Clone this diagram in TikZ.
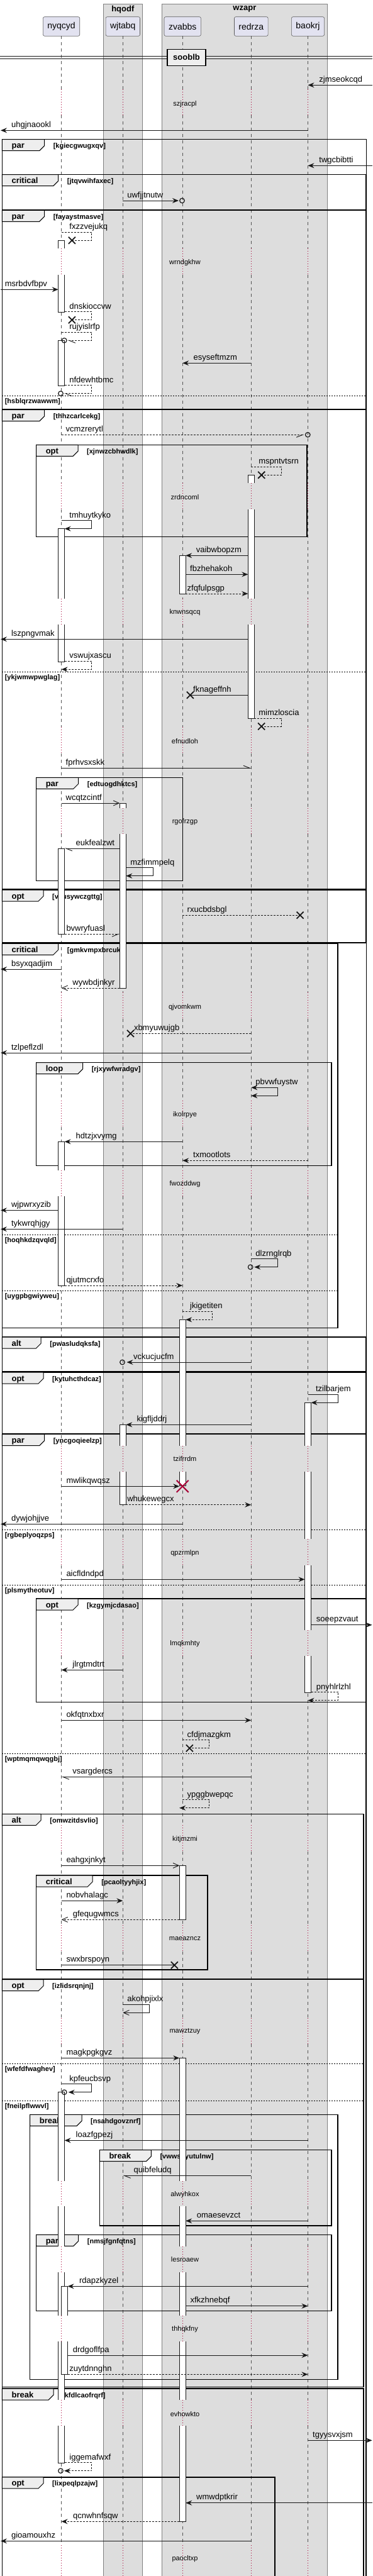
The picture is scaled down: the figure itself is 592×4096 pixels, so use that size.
\documentclass[tikz,border=0pt]{standalone}
\usepackage{fontspec}
\setmainfont{Liberation Sans}
\usepackage{tikz}
\usetikzlibrary{arrows.meta}
\definecolor{ink}{HTML}{181818}
\definecolor{partbg}{HTML}{E2E2F0}
\definecolor{boxbg}{HTML}{DDDDDD}
\definecolor{tabbg}{HTML}{EEEEEE}
\definecolor{dlyred}{HTML}{A80036}
\definecolor{lifegray}{HTML}{555555}
% message: [style]{from}{to}{y}{label x}{text}
\newcommand\sqmsg[6][]{\draw[msg,#1] (#2 |- 0,#4) -- (#3 |- 0,#4);
  \node[lbl] at (#5,#4-5) {#6};}
% self message: [style]{from}{y}{far x}{to}{label x}{text}
\newcommand\sqself[7][]{\draw[msg,#1] (#2 |- 0,#3) -| (#4,#3+13) -- (#5 |- 0,#3+13);
  \node[lbl] at (#6,#3-4.5) {#7};}
\newcommand\sqx[2]{\draw[xmk] (#1-5.5,#2-5.5) -- (#1+5.5,#2+5.5) (#1-5.5,#2+5.5) -- (#1+5.5,#2-5.5);}
\newcommand\sqo[2]{\draw[circst] (#1,#2) circle (3.8pt);}
\newcommand\sqdestroy[2]{\draw[dlyred,line width=2pt] (#1-9.5,#2-9.5) -- (#1+9.5,#2+9.5) (#1-9.5,#2+9.5) -- (#1+9.5,#2-9.5);}
% group frame: {left}{top}{right}{bottom}{tab right}{kind}{guard}
\newcommand\sqgrp[7]{\draw[frm] (#1,#2) rectangle (#3,#4);
  \filldraw[tabst] (#1,#2) -- (#5,#2) -- (#5,#2+10) -- (#5-8,#2+18) -- (#1,#2+18) -- cycle;
  \node[kindtxt] at (#1+15,#2+14) {#6};
  \node[guardtxt] at (#5+14,#2+14) {[#7]};}
\newcommand\sqelse[4]{\draw[elseln] (#1,#3) -- (#2,#3);
  \node[guardtxt] at (#1+4.2,#3+11.7) {[#4]};}
% activation bars: closed, open bottom, open top, open both
\newcommand\sqactC[3]{\filldraw[actst] (#1-5,#2) rectangle (#1+5,#3);}
\newcommand\sqactT[3]{\fill[white] (#1-5,#2) rectangle (#1+5,#3); \draw[actst] (#1-5,#3) -- (#1-5,#2) -- (#1+5,#2) -- (#1+5,#3);}
\newcommand\sqactB[3]{\fill[white] (#1-5,#2) rectangle (#1+5,#3); \draw[actst] (#1-5,#2) -- (#1-5,#3) -- (#1+5,#3) -- (#1+5,#2);}
\newcommand\sqactO[3]{\fill[white] (#1-5,#2) rectangle (#1+5,#3); \draw[actst] (#1-5,#2) -- (#1-5,#3) (#1+5,#2) -- (#1+5,#3);}

\begin{document}
\begin{tikzpicture}[
  x=1pt, y=-1pt,
  >={Stealth[length=10pt,width=8pt,inset=3.5pt]},
  partbox/.style={draw=ink!70, fill=partbg, rounded corners=2.5pt, line width=0.6pt, minimum height=30.6pt, inner xsep=7pt, font=\fontsize{14}{16}\selectfont},
  boxst/.style={fill=boxbg, draw=ink!55, line width=0.8pt},
  boxttl/.style={font=\bfseries\fontsize{13}{15}\selectfont},
  lifeln/.style={lifegray, line width=0.7pt, dash pattern=on 5pt off 5pt},
  dlyln/.style={dlyred, line width=0.8pt, dash pattern=on 1pt off 3pt},
  dlytxt/.style={font=\fontsize{11}{13}\selectfont},
  actst/.style={draw=ink, fill=white, line width=0.9pt},
  msg/.style={ink, line width=0.9pt, ->},
  dsh/.style={dash pattern=on 3pt off 2pt},
  opn/.style={-{Straight Barb[length=9pt,width=8pt]}},
  hbl/.style={-{Straight Barb[harpoon,length=10pt,width=8pt]}},
  hbr/.style={-{Straight Barb[harpoon,swap,length=10pt,width=8pt]}},
  lbl/.style={anchor=base west, inner sep=0pt, font=\fontsize{13}{15}\selectfont},
  xmk/.style={ink, line width=1.8pt},
  circst/.style={ink, line width=1.2pt},
  frm/.style={black, line width=1.5pt},
  tabst/.style={fill=tabbg, draw=black, line width=1pt},
  kindtxt/.style={anchor=base west, inner sep=0pt, font=\bfseries\fontsize{13}{15}\selectfont},
  guardtxt/.style={anchor=base west, inner sep=0pt, font=\bfseries\fontsize{11}{13}\selectfont},
  elseln/.style={black, line width=1pt, dash pattern=on 2pt off 2pt}
]
\useasboundingbox (0,0) rectangle (592,4096);
% boxes and participants
\draw[boxst] (164,6) rectangle (226.5,4120);
\draw[boxst] (257.1,6) rectangle (520.6,4120);
\node[boxttl] (hqodf) at (195.3,14.7) {hqodf};
\node[boxttl] (wzapr) at (388.9,14.7) {wzapr};
\node[partbox] (ny) at (97.6,42) {nyqcyd};
\node[partbox] (wj) at (195.3,42) {wjtabq};
\node[partbox] (zv) at (290.2,42) {zvabbs};
\node[partbox] (re) at (399.3,42) {redrza};
\node[partbox] (ba) at (489.5,42) {baokrj};
\foreach \p in {ny,wj,zv,re,ba}{
  \coordinate (\p-l) at ([xshift=-5pt]\p.center);
  \coordinate (\p-r) at ([xshift=5pt]\p.center);}
\coordinate (ny-n) at ([xshift=10pt]ny.center);
\coordinate (lft) at (1,0);
\coordinate (rgt) at (591.5,0);
% lifelines with delays
\foreach \a/\b/\t/\n [remember=\b as \lastb (initially 57.3)] in {
  141.7/183.3/165.3/szjracpl, 395.3/437/417.3/wrndgkhw, 768.3/810.3/790.3/zrdncoml,
  952.3/993.3/973.3/knwnsqcq, 1156/1197.7/1179/efnudloh, 1285.3/1326/1306.7/rgofrzgp,
  1578/1620/1601.3/qjvomkwm, 1750.3/1792/1772.3/ikolrpye, 1860.7/1902.3/1882.3/fwozddwg,
  2298.7/2340.3/2320/tzifrrdm, 2447.3/2489/2469.3/qpzrmlpn, 2591.7/2633/2613.3/lmqkmhty,
  2902.3/2944/2924.3/kitjmzmi, 3061/3103/3082.7/maeazncz, 3208.5/3250/3230.3/mawztzuy,
  3467.7/3508.3/3489.3/alwyhkox, 3571.7/3613.3/3593/lesroaew, 3681.7/3723.3/3703.3/thhqkfny,
  3816.3/3857/3838.3/evhowkto, 4047.3/4110/4069/paocltxp}{
  \foreach \p in {ny,wj,zv,re,ba}{
    \draw[lifeln] (\p |- 0,\lastb) -- (\p |- 0,\a);
    \draw[dlyln] (\p |- 0,\a) -- (\p |- 0,\b);}
  \node[dlytxt] (d-\n) at (294,\t) {\n};}
% divider
\draw[ink, line width=1pt] (0,89.5) -- (592,89.5) (0,93) -- (592,93);
\node[draw=black, line width=1.6pt, fill=tabbg, minimum width=61pt, minimum height=26pt, font=\bfseries\fontsize{13}{15}\selectfont] (sooblb) at (296.5,91.3) {sooblb};
% groups
\sqgrp{3.4}{221.7}{582.4}{4120}{70.6}{par}{kgiecgwugxqv}
\sqgrp{3.4}{277.7}{581.6}{333.3}{92.7}{critical}{jtqvwihfaxec}
\sqgrp{3.4}{334.3}{581.6}{650.3}{70.6}{par}{fayaystmasve}
\sqelse{3.4}{581.6}{629.3}{hsblqrzwawwm}
\sqgrp{3.4}{651.7}{581.6}{1413.7}{70.6}{par}{thhzcarlcekg}
\sqgrp{57.6}{707.3}{487.8}{853.3}{124}{opt}{xjnwzcbhwdlk}
\sqelse{3.4}{581.6}{1068.3}{ykjwmwpwglag}
\sqgrp{57.6}{1236.3}{290.6}{1400.3}{124.7}{par}{edtuogdhktcs}
\sqgrp{3.4}{1415}{581.6}{1499}{69}{opt}{vxusywczgttg}
\sqgrp{3.4}{1500.3}{537}{2111.7}{92.7}{critical}{gmkvmpxbrcuk}
\sqgrp{57.6}{1689.7}{527.1}{1853.7}{131.6}{loop}{rjxywfwradgv}
\sqelse{3.4}{537}{1963.3}{hoqhkdzqvqld}
\sqelse{3.4}{537}{2052.7}{uygpbgwiyweu}
\sqgrp{3.4}{2126}{581.6}{2180.7}{65.2}{alt}{pwasludqksfa}
\sqgrp{3.4}{2182}{581.6}{2280}{69}{opt}{kytuhcthdcaz}
\sqgrp{3.4}{2280.7}{581.6}{4120}{70.6}{par}{yncgoqieelzp}
\sqelse{3.4}{581.6}{2432.3}{rgbeplyoqzps}
\sqelse{3.4}{581.6}{2520.3}{plsmytheotuv}
\sqgrp{57.6}{2542}{581.6}{2706.3}{124}{opt}{kzgymjcdasao}
\sqelse{3.4}{581.6}{2788.3}{wptmqmqwqgbj}
\sqgrp{3.4}{2884.3}{577.8}{3146.3}{65.2}{alt}{omwzitdsvlio}
\sqgrp{57.6}{2982}{329.9}{3132}{147.2}{critical}{pcaoltyyhjix}
\sqgrp{3.4}{3147.7}{577.8}{3795.5}{69}{opt}{izlidsrqnjnj}
\sqelse{3.4}{577.8}{3281.3}{wfefdfwaghev}
\sqelse{3.4}{577.8}{3340.3}{fneilpflwwvl}
\sqgrp{47.7}{3362.3}{537}{3783.7}{130}{break}{nsahdgovznrf}
\sqgrp{158.3}{3418.7}{527.1}{3539}{240.3}{break}{vwwsqyutulnw}
\sqgrp{57.6}{3553.3}{527.1}{3674.3}{124.7}{par}{nmsjfgnfqtns}
\sqgrp{3.4}{3798}{577.8}{4120}{85}{break}{kfdlcaofrqrf}
\sqgrp{3.4}{3938.7}{437.1}{4120}{69}{opt}{lixpeqlpzajw}
% activations
\sqactT{97.6}{382.7}{395.3} \sqactB{97.6}{437}{496.3}
\sqactC{97.6}{541.3}{613}
\sqactT{399.3}{755.3}{768.3} \sqactO{399.3}{810.3}{952.3} \sqactB{399.3}{993.3}{1142}
\sqactT{97.6}{840.3}{952.3} \sqactB{97.6}{993.3}{1052}
\sqactC{290.2}{883.3}{944}
\sqactT{195.3}{1277}{1285.3} \sqactB{195.3}{1326}{1571.3}
\sqactC{97.6}{1349.3}{1485.3}
\sqactT{97.6}{1815.3}{1860.7} \sqactB{97.6}{1902.3}{2044}
\sqactT{290.2}{2098.7}{2298.7} \sqactB{290.2}{2340.3}{2362.7}
\sqactT{489.5}{2230.3}{2298.7} \sqactO{489.5}{2340.3}{2447.3} \sqactO{489.5}{2489}{2591.7} \sqactB{489.5}{2633}{2691.3}
\sqactT{195.3}{2265.3}{2298.7} \sqactB{195.3}{2340.3}{2392.7}
\sqactC{290.2}{2966.3}{3052}
\sqactT{290.2}{3272.3}{3467.7} \sqactO{290.2}{3508.3}{3571.7} \sqactO{290.2}{3613.3}{3681.7} \sqactO{290.2}{3723.3}{3816.3} \sqactB{290.2}{3857}{4009.3}
\sqactT{97.6}{3326.3}{3467.7} \sqactO{97.6}{3508.3}{3571.7} \sqactO{97.6}{3613.3}{3681.7} \sqactO{97.6}{3723.3}{3816.3} \sqactB{97.6}{3857}{3916}
\sqactT{102.6}{3635.3}{3681.7} \sqactB{102.6}{3723.3}{3775.3}
% messages
\sqmsg{rgt}{ba}{135.3}{507.2}{zjmseokcqd}
\sqmsg{ba}{lft}{207.3}{17.9}{uhgjnaookl}
\sqmsg{rgt}{ba}{263.3}{507.2}{twgcbibtti}
\sqmsg{wj}{284,0}{319}{202.1}{uwfjjtnutw} \sqo{289.5}{319}
\sqself[dsh,-]{ny}{369.3}{145.7}{114.4,0}{110.2}{fxzzvejukq} \sqx{114.4}{382.3}
\sqmsg{lft}{ny-l}{460.3}{7.6}{msrbdvfbpv}
\sqself[dsh,-]{ny-r}{495.7}{145.7}{114.4,0}{110.2}{dnskioccvw} \sqx{114.4}{508.7}
\sqself[dsh,hbl]{ny}{528.3}{145.7}{107.5,0}{110.2}{rujyislrfp} \sqo{102.2}{541.3}
\sqmsg{re}{zv}{577.3}{307.4}{esyseftmzm}
\sqself[dsh,hbl]{ny-r}{612.7}{145.7}{101.8,0}{110.2}{nfdewhtbmc} \sqo{96.5}{625.7}
\sqmsg[dsh,hbr]{ny}{483.5,0}{691.3}{104.5}{vcmzrerytl} \sqo{489.3}{691.3}
\sqself[dsh,-]{re}{742.3}{447}{415.7,0}{411.1}{mspntvtsrn} \sqx{415.7}{755.3}
\sqself{ny}{827.7}{145.7}{ny-r}{110.2}{tmhuytkyko}
\sqmsg{re-l}{zv-r}{883.3}{311.6}{vaibwbopzm}
\sqmsg{zv-r}{re-l}{913.3}{302}{fbzhehakoh}
\sqmsg[dsh]{zv-r}{re-l}{944}{297.5}{zfqfulpsgp}
\sqmsg{re-l}{lft}{1016.3}{17.9}{lszpngvmak}
\sqself[dsh]{ny-r}{1051.3}{145.7}{ny}{110.2}{vswujxascu}
\sqmsg[-]{re-l}{302.4,0}{1105.3}{307}{fknageffnh} \sqx{302.4}{1105.3}
\sqself[dsh,-]{re-r}{1142}{447}{415.7,0}{411.1}{mimzloscia} \sqx{415.7}{1155}
\sqmsg[hbl]{ny}{re}{1221.3}{104.5}{fprhvsxskk}
\sqmsg[opn]{ny}{wj-l}{1277}{104.5}{wcqtzcintf}
\sqmsg[hbl]{wj-l}{ny-r}{1349}{120.5}{eukfealzwt}
\sqself{wj-r}{1379.7}{243}{wj-r}{207.1}{mzfimmpelq}
\sqmsg[dsh,-]{zv}{477.1,0}{1455.3}{297.5}{rxucbdsbgl} \sqx{477.1}{1455.3}
\sqmsg[dsh,hbr]{ny-r}{wj-l}{1485.3}{105.3}{bvwryfuasl}
\sqmsg{ny}{lft}{1541}{17.9}{bsyxqadjim}
\sqmsg[dsh,opn]{wj-l}{ny}{1571}{115.2}{wywbdjnkyr}
\sqmsg[dsh,-]{re}{207.5,0}{1643.3}{212.8}{xbmyuwujgb} \sqx{207.5}{1643.3}
\sqmsg{re}{lft}{1674}{17.9}{tzlpeflzdl}
\sqself[<->]{re}{1729.3}{441.6}{re}{406.2}{pbvwfuystw}
\sqmsg{zv}{ny-r}{1815.3}{120.5}{hdtzjxvymg}
\sqmsg[dsh]{ba}{zv}{1845.3}{307}{txmootlots}
\sqmsg{ny-l}{lft}{1924.3}{17.9}{wjpwrxyzib}
\sqmsg{wj}{lft}{1954.3}{17.9}{tykwrqhjgy}
\sqself{re}{2001.7}{441.6}{404.3,0}{406.2}{dlzrnglrqb} \sqo{398.2}{2014.7}
\sqmsg[dsh]{ny-r}{zv}{2044}{105.3}{qjutmcrxfo}
\sqself[dsh]{zv}{2085.3}{337.9}{zv-r}{302}{jkigetiten}
\sqmsg{re}{201.5,0}{2166}{212}{vckucjucfm} \sqo{194.5}{2166}
\sqself{ba}{2217.3}{537.8}{ba-r}{501.9}{tzilbarjem}
\sqmsg{re}{wj-r}{2265.3}{217.4}{kigfljddrj}
\sqmsg{ny}{zv-l}{2363.3}{105.3}{mwlikqwqsz} \sqdestroy{290.2}{2363.3}
\sqmsg[dsh]{wj-r}{re}{2392.7}{202.1}{whukewegcx}
\sqmsg{zv}{lft}{2423.3}{17.9}{dywjohjjve}
\sqmsg{ny}{ba-l}{2511.3}{105.3}{aicfldndpd}
\sqmsg{ba-r}{rgt}{2583.7}{502.7}{soeepzvaut}
\sqmsg{wj}{ny}{2655.3}{115.2}{jlrgtmdtrt}
\sqself[dsh]{ba-r}{2690.7}{537.8}{ba}{502.7}{pnyhlrlzhl}
\sqmsg{ny}{re}{2735.3}{105.3}{okfqtnxbxr}
\sqself[dsh,-]{zv}{2766.7}{332.6}{301.3,0}{297.5}{cfdjmazgkm} \sqx{301.3}{2779.7}
\sqmsg[hbl]{re}{ny}{2825.3}{115.2}{vsargdercs}
\sqself[dsh]{zv}{2861.7}{332.6}{zv-l}{297.5}{ypggbwepqc}
\sqmsg[opn]{ny}{zv-l}{2966.3}{105.3}{eahgxjnkyt}
\sqmsg{ny}{wj}{3022.3}{105.3}{nobvhalagc}
\sqmsg[dsh,opn]{zv-l}{ny}{3052.3}{115.6}{gfequgwmcs}
\sqmsg[-]{ny}{277.3,0}{3124.7}{105.3}{swxbrspoyn} \sqx{277.3}{3124.7}
\sqself[opn]{wj}{3187.3}{237.6}{wj}{202.1}{akohpjixlx}
\sqmsg{ny}{zv-l}{3272.3}{105.3}{magkpgkgvz}
\sqself{ny}{3313.7}{145.7}{108.7,0}{110.2}{kpfeucbsvp} \sqo{102.2}{3326.7}
\sqmsg{ba}{ny-r}{3403.3}{120.5}{loazfgpezj}
\sqmsg[hbl]{re}{wj}{3459.3}{212.4}{quibfeludq}
\sqmsg{ba}{zv-r}{3531.3}{312.7}{omaesevzct}
\sqmsg{ba}{ny-n}{3635.3}{125.9}{rdapzkyzel}
\sqmsg{zv-r}{ba}{3666.7}{302.4}{xfkzhnebqf}
\sqmsg{ny-n}{ba}{3745}{115.6}{drdgoflfpa}
\sqmsg[dsh]{ny-n}{ba}{3775.3}{110.2}{zuytdnnghn}
\sqmsg{ba}{rgt}{3880.3}{497}{tgyysvxjsm}
\sqself[dsh]{ny-r}{3915.7}{145.7}{102,0}{110.2}{iggemafwxf} \sqo{96.5}{3928.7}
\sqmsg{rgt}{zv-r}{3979.7}{312}{wmwdptkrir}
\sqmsg[dsh]{zv-l}{ny}{4009.3}{115.9}{qcnwhnfsqw}
\sqmsg{re}{lft}{4040.3}{17.9}{gioamouxhz}
\end{tikzpicture}
\end{document}
